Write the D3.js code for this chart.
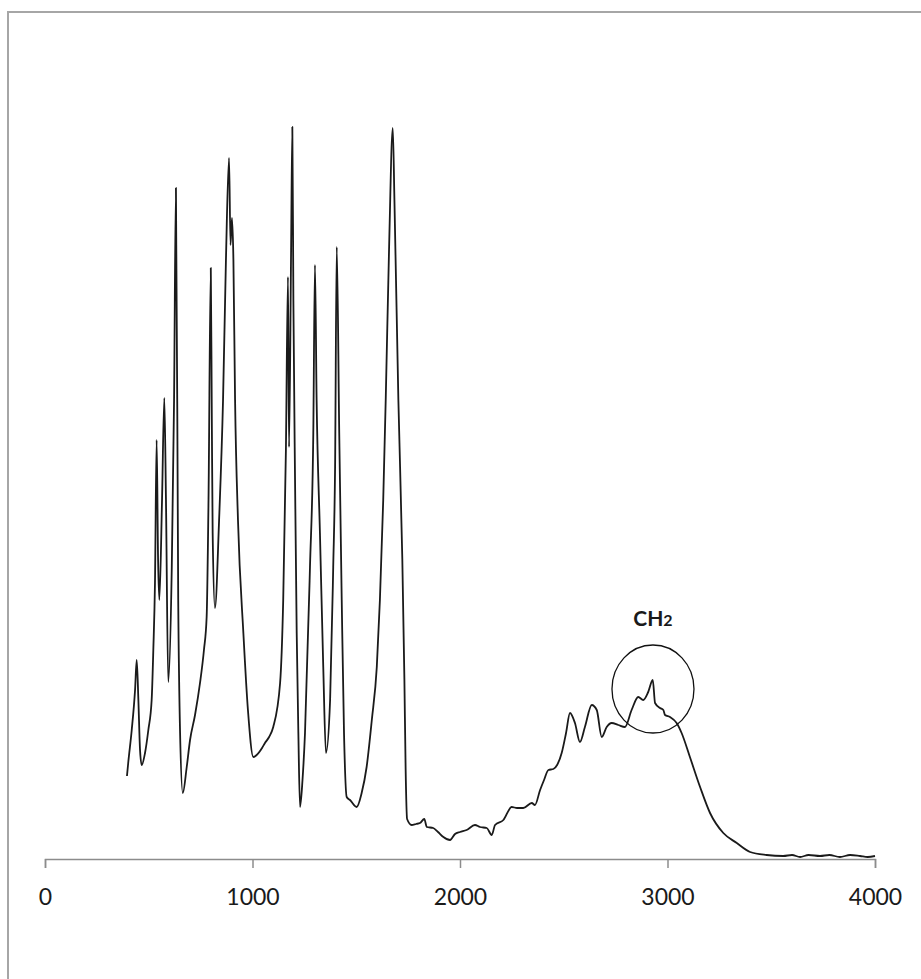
<!DOCTYPE html>
<html>
<head>
<meta charset="utf-8">
<script src="https://cdn.jsdelivr.net/npm/d3@7"></script>
<style>
  html, body { margin: 0; padding: 0; background: #fff; }
  svg { display: block; }
</style>
</head>
<body>
<div id="chart"></div>
<script>
// wavenumber (cm-1) and intensity (a.u.)
const wavenumbers = [
  395, 401, 418, 434, 442, 450, 458, 466, 482, 498, 514, 522, 530, 538, 545, 551,
  564, 575, 583, 594, 611, 622, 631, 642, 651, 664, 683, 699, 723, 747, 766, 779,
  788, 799, 804, 808, 819, 839, 858, 872, 887, 894, 901, 908, 916, 930, 956, 978,
  1004, 1020, 1046, 1060, 1080, 1100, 1133, 1148, 1161, 1171, 1176, 1186, 1192, 1197,
  1205, 1213, 1221, 1229, 1241, 1253, 1277, 1293, 1301, 1309, 1325, 1341, 1354, 1374,
  1389, 1398, 1406, 1418, 1430, 1441, 1454, 1470, 1502, 1526, 1550, 1575, 1599, 1614,
  1630, 1642, 1658, 1676, 1684, 1703, 1722, 1732, 1738, 1745, 1767, 1788, 1807, 1828,
  1840, 1871, 1894, 1920, 1952, 1976, 2000, 2032, 2072, 2096, 2129, 2153, 2169, 2209,
  2249, 2275, 2305, 2346, 2361, 2386, 2405, 2426, 2450, 2468, 2490, 2511, 2530, 2554,
  2578, 2602, 2635, 2659, 2683, 2707, 2731, 2763, 2795, 2827, 2859, 2883, 2907, 2929,
  2940, 2964, 2980, 2988, 3012, 3044, 3068, 3108, 3157, 3205, 3269, 3334, 3398, 3478,
  3558, 3600, 3639, 3680, 3735, 3780, 3831, 3880, 3928, 3965, 4000
];
const intensities = [
  83, 96, 129, 169, 199, 159, 109, 94, 106, 129, 159, 209, 276, 419, 299, 259,
  359, 461, 359, 177, 292, 459, 671, 259, 126, 66, 92, 119, 144, 176, 209, 242,
  359, 591, 439, 326, 251, 339, 459, 599, 701, 614, 641, 599, 459, 339, 226, 149,
  102, 104, 111, 116, 122, 132, 176, 259, 409, 582, 412, 609, 732, 559,
  379, 226, 126, 52, 79, 126, 292, 426, 594, 459, 326, 192, 106, 159,
  292, 392, 612, 426, 259, 126, 62, 59, 52, 66, 92, 139, 192, 259,
  359, 459, 609, 731, 659, 459, 300, 180, 90, 40, 34, 35, 36, 40,
  32, 31, 27, 22, 19, 25, 27, 29, 34, 32, 31, 24, 34, 39,
  52, 51, 51, 56, 54, 69, 79, 89, 90, 94, 106, 126, 146, 136,
  117, 132, 154, 149, 122, 132, 136, 134, 132, 149, 162, 159, 167, 179,
  156, 151, 149, 144, 142, 136, 126, 102, 72, 46, 26, 16, 7, 4,
  3, 4, 2, 4, 3, 4, 2, 4, 3, 2, 3
];
const xTicks = [0, 1000, 2000, 3000, 4000];
const bandLabel = 'CH';
const bandSub = '2';
const bandCentre = [2930, 170];

const width = 921;
const height = 979;

const svg = d3.select('#chart')
    .append('svg')
    .attr('width', width)
    .attr('height', height);

// outer frame of the chart area
svg.append('rect')
    .attr('x', 8)
    .attr('y', 12)
    .attr('width', 940)
    .attr('height', 1000)
    .attr('fill', 'none')
    .attr('stroke', '#a6a6a6')
    .attr('stroke-width', 2);

const x = d3.scaleLinear()
    .domain([0, 4000])
    .range([45, 875]);

const y = d3.scaleLinear()
    .domain([0, 740])
    .range([859, 119]);

const xAxis = d3.axisBottom(x)
    .tickValues(xTicks)
    .tickSize(9)
    .tickPadding(21)
    .tickFormat(d3.format('d'));

const gx = svg.append('g')
    .attr('transform', 'translate(0,' + y(0) + ')')
    .call(xAxis);

gx.select('.domain')
    .attr('stroke', '#8c8c8c')
    .attr('stroke-width', 1.5);
gx.selectAll('.tick line')
    .attr('stroke', '#8c8c8c')
    .attr('stroke-width', 1.5);
gx.selectAll('.tick text')
    .attr('fill', '#1a1a1a')
    .style('font-family', 'Lato, "Open Sans", sans-serif')
    .style('font-size', '23px');

const data = wavenumbers.map(function(w, i) {
  return {w: w, v: intensities[i]};
});

const line = d3.line()
    .x(function(d) {
      return x(d.w);
    })
    .y(function(d) {
      return y(d.v);
    })
    .curve(d3.curveMonotoneX);

svg.append('path')
    .datum(data)
    .attr('d', line)
    .attr('fill', 'none')
    .attr('stroke', '#1a1a1a')
    .attr('stroke-width', 1.8)
    .attr('stroke-linejoin', 'round');

// annotation ring around the CH2 stretch band
svg.append('ellipse')
    .attr('cx', x(bandCentre[0]))
    .attr('cy', y(bandCentre[1]))
    .attr('rx', 41)
    .attr('ry', 44)
    .attr('fill', 'none')
    .attr('stroke', '#111')
    .attr('stroke-width', 1.3);

const label = svg.append('text')
    .attr('x', x(bandCentre[0]))
    .attr('y', y(bandCentre[1]) - 63)
    .attr('text-anchor', 'middle')
    .attr('fill', '#1a1a1a')
    .style('font-family', 'Lato, "Open Sans", sans-serif')
    .style('font-size', '21px')
    .style('font-weight', 'bold');
label.append('tspan').text(bandLabel);
label.append('tspan')
    .style('font-size', '16px')
    .text(bandSub);
</script>
</body>
</html>
